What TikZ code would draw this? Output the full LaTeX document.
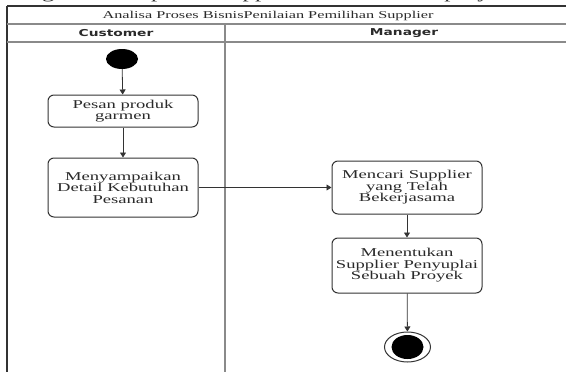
\documentclass[tikz,border=0pt]{standalone}
\usepackage{fontspec}
\usetikzlibrary{arrows.meta,shapes.geometric}
\newfontfamily\actfont{Liberation Serif}[FakeStretch=1.55]
\newfontfamily\lanefont{DejaVu Sans Bold}[FakeStretch=1.45]
\definecolor{edgegray}{HTML}{333333}
\definecolor{lanegray}{HTML}{8A8A8A}
\definecolor{inkgray}{HTML}{2A2A2A}
\begin{document}
\begin{tikzpicture}[x=1pt,y=-1pt,
  frame/.style={draw=edgegray,line width=1.1pt},
  laneline/.style={draw=lanegray,line width=1.3pt},
  action/.style={draw=edgegray,line width=1pt,rounded corners=6pt,fill=white,
    minimum width=150pt,align=center,inner sep=0pt,text=inkgray,
    font=\actfont\fontsize{12}{11.5}\selectfont},
  flow/.style={draw=edgegray,line width=0.8pt,-{Triangle[width=6pt,length=5pt]}},
  lanehead/.style={font=\lanefont\fontsize{9.5}{11}\selectfont,text=inkgray},
  titletext/.style={font=\actfont\fontsize{10.5}{12}\selectfont,text=inkgray}]
\useasboundingbox (0,0) rectangle (566,372);

% running text of the page above, cut by the top edge
\begin{scope}
  \clip (0,0) rectangle (566,5);
  \node[anchor=north west,inner sep=0pt,font=\actfont\fontsize{16}{18}\selectfont,text=inkgray]
    (pagetext) at (-62,-13) {Berikut bagan dalam proses supplier untuk sebuah proyek.};
\end{scope}

% swimlane frame
\draw[frame] (7,6) -- (566,6);
\draw[frame,line width=1.6pt] (7,6) -- (7,372);
\draw[laneline] (7,24) -- (566,24);
\draw[laneline] (7,42) -- (566,42);
\draw[laneline,line width=1.8pt] (225,24) -- (225,372);

\node[titletext] (title) at (268,15.5) {Analisa Proses BisnisPenilaian Pemilihan Supplier};
\node[lanehead] (customer) at (116,33.5) {Customer};
\node[lanehead] (manager) at (404,33.5) {Manager};

% start and end states
\node[draw=none,fill=black,ellipse,minimum width=32pt,minimum height=20pt,inner sep=0pt]
  (start) at (122,59) {};
\node[draw=edgegray,line width=1pt,ellipse,minimum width=46pt,minimum height=30pt,inner sep=0pt]
  (finish) at (407.5,347) {};
\node[fill=black,ellipse,minimum width=32pt,minimum height=24pt,inner sep=0pt]
  (finishdot) at (finish.center) {};

% activities
\node[action,minimum height=32pt] (pesan) at (123,111) {Pesan produk\\garmen};
\node[action,minimum height=59pt] (detail) at (123,187.5) {Menyampaikan\\Detail Kebutuhan\\Pesanan};
\node[action,minimum height=53pt] (cari) at (407,187.5) {Mencari Supplier\\yang Telah\\Bekerjasama};
\node[action,minimum height=55pt] (tentukan) at (407,265.5) {Menentukan\\Supplier Penyuplai\\Sebuah Proyek};

% control flow
\draw[flow] (start) -- (pesan);
\draw[flow] (pesan) -- (detail);
\draw[flow] (detail) -- (cari);
\draw[flow] (cari) -- (tentukan);
\draw[flow] (tentukan) -- (finish);
\end{tikzpicture}
\end{document}
